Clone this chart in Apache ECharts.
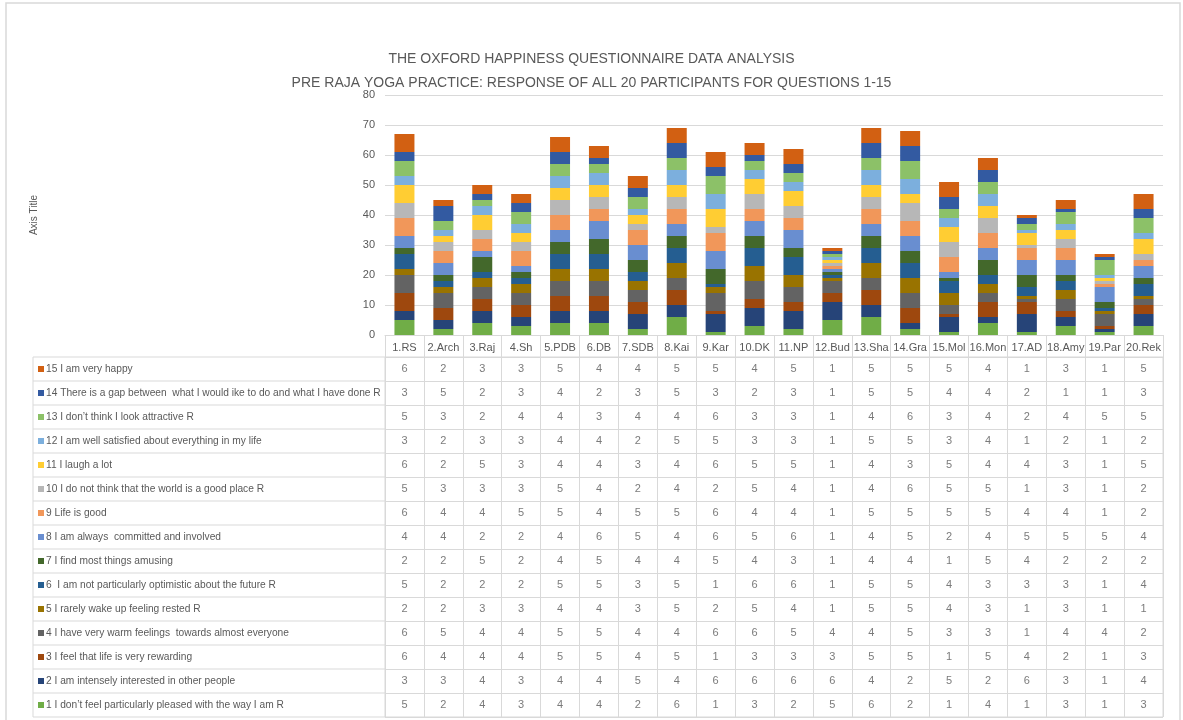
<!DOCTYPE html>
<html>
<head>
<meta charset="utf-8">
<script src="https://cdn.jsdelivr.net/npm/echarts@6/dist/echarts.min.js"></script>
<style>
  html, body { margin: 0; padding: 0; background: #fff; }
  #chart { width: 1183px; height: 720px; }
</style>
</head>
<body>
<div id="chart"></div>
<script>
const participants = ['1.RS', '2.Arch', '3.Raj', '4.Sh', '5.PDB', '6.DB', '7.SDB', '8.Kai', '9.Kar', '10.DK',
  '11.NP', '12.Bud', '13.Sha', '14.Gra', '15.Mol', '16.Mon', '17.AD', '18.Amy', '19.Par', '20.Rek'];

const questions = [
  '1 I don\u2019t feel particularly pleased with the way I am R',
  '2 I am intensely interested in other people',
  '3 I feel that life is very rewarding',
  '4 I have very warm feelings  towards almost everyone',
  '5 I rarely wake up feeling rested R',
  '6  I am not particularly optimistic about the future R',
  '7 I find most things amusing',
  '8 I am always  committed and involved',
  '9 Life is good',
  '10 I do not think that the world is a good place R',
  '11 I laugh a lot',
  '12 I am well satisfied about everything in my life',
  '13 I don\u2019t think I look attractive R',
  '14 There is a gap between  what I would ike to do and what I have done R',
  '15 I am very happy'
];

const q1 = [5, 2, 4, 3, 4, 4, 2, 6, 1, 3, 2, 5, 6, 2, 1, 4, 1, 3, 1, 3];
const q2 = [3, 3, 4, 3, 4, 4, 5, 4, 6, 6, 6, 6, 4, 2, 5, 2, 6, 3, 1, 4];
const q3 = [6, 4, 4, 4, 5, 5, 4, 5, 1, 3, 3, 3, 5, 5, 1, 5, 4, 2, 1, 3];
const q4 = [6, 5, 4, 4, 5, 5, 4, 4, 6, 6, 5, 4, 4, 5, 3, 3, 1, 4, 4, 2];
const q5 = [2, 2, 3, 3, 4, 4, 3, 5, 2, 5, 4, 1, 5, 5, 4, 3, 1, 3, 1, 1];
const q6 = [5, 2, 2, 2, 5, 5, 3, 5, 1, 6, 6, 1, 5, 5, 4, 3, 3, 3, 1, 4];
const q7 = [2, 2, 5, 2, 4, 5, 4, 4, 5, 4, 3, 1, 4, 4, 1, 5, 4, 2, 2, 2];
const q8 = [4, 4, 2, 2, 4, 6, 5, 4, 6, 5, 6, 1, 4, 5, 2, 4, 5, 5, 5, 4];
const q9 = [6, 4, 4, 5, 5, 4, 5, 5, 6, 4, 4, 1, 5, 5, 5, 5, 4, 4, 1, 2];
const q10 = [5, 3, 3, 3, 5, 4, 2, 4, 2, 5, 4, 1, 4, 6, 5, 5, 1, 3, 1, 2];
const q11 = [6, 2, 5, 3, 4, 4, 3, 4, 6, 5, 5, 1, 4, 3, 5, 4, 4, 3, 1, 5];
const q12 = [3, 2, 3, 3, 4, 4, 2, 5, 5, 3, 3, 1, 5, 5, 3, 4, 1, 2, 1, 2];
const q13 = [5, 3, 2, 4, 4, 3, 4, 4, 6, 3, 3, 1, 4, 6, 3, 4, 2, 4, 5, 5];
const q14 = [3, 5, 2, 3, 4, 2, 3, 5, 3, 2, 3, 1, 5, 5, 4, 4, 2, 1, 1, 3];
const q15 = [6, 2, 3, 3, 5, 4, 4, 5, 5, 4, 5, 1, 5, 5, 5, 4, 1, 3, 1, 5];

const allValues = [q1, q2, q3, q4, q5, q6, q7, q8, q9, q10, q11, q12, q13, q14, q15];

const colors = ['#70AD47', '#264478', '#9E480E', '#636363', '#997300', '#255E91', '#43682B',
  '#698ED0', '#F1975A', '#B7B7B7', '#FFCD33', '#7CAFDD', '#8CC168', '#335AA1', '#D26012'];

const textColor = '#595959';
const lineColor = '#d9d9d9';
const font = "'Liberation Sans', Arial, sans-serif";

// plot / table geometry
const plotLeft = 385, plotWidth = 778;
const plotTop = 95, plotHeight = 240;
const tableTop = 357, rowH = 24, tableLeft = 33;
const tableHeight = rowH * questions.length;

const chart = echarts.init(document.getElementById('chart'));

const rich = { t: { color: textColor, fontSize: 10.2, fontFamily: font, padding: [0, 0, 0, 2] } };
colors.forEach((c, i) => {
  rich['s' + i] = { width: 6, height: 6, backgroundColor: c };
});

const barSeries = allValues.map((vals, i) => ({
  name: questions[i],
  type: 'bar',
  stack: 'total',
  xAxisIndex: 0,
  yAxisIndex: 0,
  barWidth: 20,
  itemStyle: { color: colors[i] },
  data: vals
}));

const cellData = [];
allValues.forEach((vals, r) => {
  vals.forEach((v, c) => cellData.push([c, r, v]));
});

// left label column borders of the table + outer chart frame
const tableLines = [];
for (let i = 0; i <= questions.length; i++) {
  tableLines.push({
    type: 'line',
    silent: true,
    shape: { x1: tableLeft, y1: tableTop + i * rowH, x2: plotLeft, y2: tableTop + i * rowH },
    style: { stroke: lineColor, lineWidth: 1 }
  });
}
tableLines.push({
  type: 'line',
  silent: true,
  shape: { x1: tableLeft, y1: tableTop, x2: tableLeft, y2: tableTop + tableHeight },
  style: { stroke: lineColor, lineWidth: 1 }
});
tableLines.push({
  type: 'rect',
  silent: true,
  shape: { x: 6, y: 3, width: 1174, height: 740 },
  style: { fill: 'none', stroke: lineColor, lineWidth: 1.5 }
});

const option = {
  animation: false,
  backgroundColor: '#fff',
  title: {
    text: 'THE OXFORD HAPPINESS QUESTIONNAIRE DATA ANALYSIS\nPRE RAJA YOGA PRACTICE: RESPONSE OF ALL 20 PARTICIPANTS FOR QUESTIONS 1-15',
    left: 'center',
    top: 42,
    textStyle: {
      color: textColor,
      fontSize: 14,
      fontWeight: 'normal',
      fontFamily: font,
      lineHeight: 24
    }
  },
  grid: [
    { left: plotLeft, top: plotTop, width: plotWidth, height: plotHeight },
    { left: plotLeft, top: tableTop, width: plotWidth, height: tableHeight, show: true, borderColor: lineColor, borderWidth: 1 }
  ],
  xAxis: [
    {
      type: 'category',
      gridIndex: 0,
      data: participants,
      axisLine: { lineStyle: { color: lineColor } },
      axisTick: { show: true, length: 22, lineStyle: { color: lineColor } },
      axisLabel: { color: textColor, fontSize: 11, fontFamily: font, margin: 7, interval: 0 }
    },
    {
      type: 'category',
      gridIndex: 1,
      data: participants,
      axisLine: { show: false },
      axisTick: { show: false },
      axisLabel: { show: false },
      splitLine: { show: true, interval: 0, lineStyle: { color: lineColor } }
    }
  ],
  yAxis: [
    {
      type: 'value',
      gridIndex: 0,
      min: 0,
      max: 80,
      interval: 10,
      name: 'Axis Title',
      nameLocation: 'middle',
      nameRotate: 90,
      nameGap: 346,
      nameTextStyle: { color: textColor, fontSize: 10, fontFamily: font },
      axisLine: { show: false },
      axisTick: { show: false },
      axisLabel: { color: textColor, fontSize: 11, fontFamily: font, margin: 10 },
      splitLine: { lineStyle: { color: lineColor } }
    },
    {
      type: 'category',
      gridIndex: 1,
      data: questions,
      axisLine: { show: false },
      axisTick: { show: false },
      splitLine: { show: true, interval: 0, lineStyle: { color: lineColor } },
      axisLabel: {
        interval: 0,
        align: 'left',
        margin: plotLeft - 38,
        formatter: (value, idx) => '{s' + idx + '|}{t|' + value + '}',
        rich: rich
      }
    }
  ],
  series: barSeries.concat([{
    type: 'scatter',
    xAxisIndex: 1,
    yAxisIndex: 1,
    symbolSize: 0,
    silent: true,
    data: cellData,
    label: {
      show: true,
      position: 'inside',
      color: textColor,
      fontSize: 11,
      fontFamily: font,
      formatter: p => String(p.value[2])
    }
  }]),
  graphic: tableLines
};

chart.setOption(option);
</script>
</body>
</html>
